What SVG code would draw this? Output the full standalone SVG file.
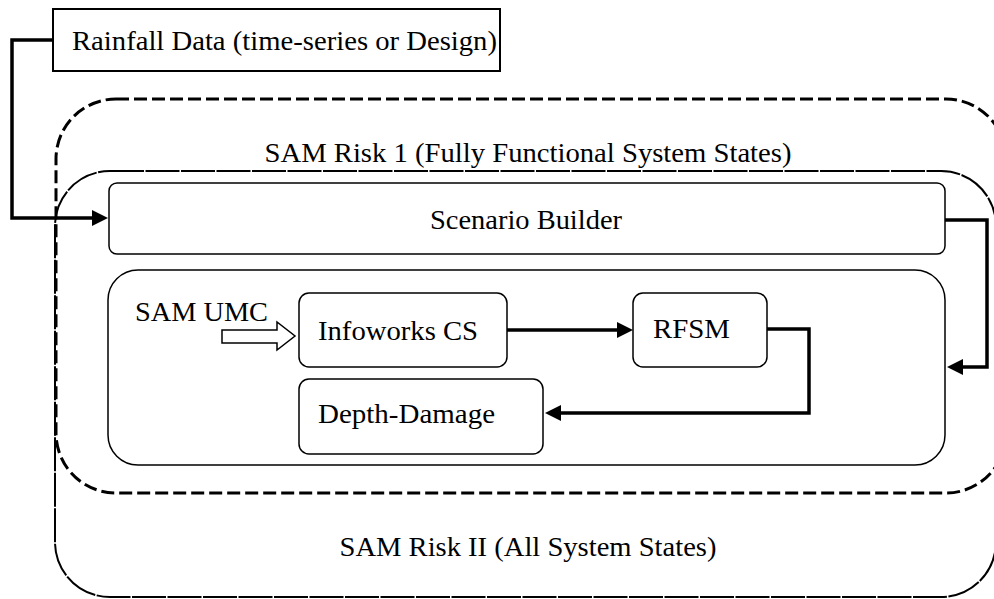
<svg xmlns="http://www.w3.org/2000/svg" width="994" height="599" viewBox="0 0 994 599">
  <style>
    text { font-size: 28px; fill: #000; }
    .box { fill: none; stroke: #000; stroke-width: 1.5; }
    .flow { fill: none; stroke: #000; stroke-width: 3.5; stroke-linejoin: miter; }
  </style>
  <defs>
    <marker id="head" markerUnits="userSpaceOnUse" markerWidth="17" markerHeight="16" refX="2" refY="8" orient="auto">
      <path d="M0,0 L16,8 L0,16 z" fill="#000"/>
    </marker>
  </defs>

  <g font-family="'Liberation Serif', 'DejaVu Serif', serif">
  <!-- outer container: all system states -->
  <g id="sam-risk-2">
    <rect x="55" y="171" width="941" height="426" rx="55" ry="55" fill="none" stroke="#000" stroke-width="2" stroke-dasharray="34 1.5"/>
    <text x="528" y="556" text-anchor="middle" textLength="377" lengthAdjust="spacingAndGlyphs">SAM Risk II (All System States)</text>
  </g>

  <!-- dashed container: fully functional system states -->
  <g id="sam-risk-1">
    <rect x="56" y="99" width="950" height="394" rx="60" ry="60" fill="none" stroke="#000" stroke-width="3" stroke-dasharray="13 5"/>
    <text x="528" y="162" text-anchor="middle" textLength="527" lengthAdjust="spacingAndGlyphs">SAM Risk 1 (Fully Functional System States)</text>
  </g>

  <g id="rainfall">
    <rect x="53" y="9" width="447" height="62" fill="#fff" stroke="#000" stroke-width="2"/>
    <text x="72" y="50" textLength="425" lengthAdjust="spacingAndGlyphs">Rainfall Data (time-series or Design)</text>
  </g>

  <g id="scenario-builder">
    <rect class="box" x="109" y="183" width="836" height="71" rx="8" ry="8"/>
    <text x="526" y="229" text-anchor="middle" textLength="192" lengthAdjust="spacingAndGlyphs">Scenario Builder</text>
  </g>

  <g id="model-chain">
    <rect class="box" x="108" y="270" width="837" height="195" rx="30" ry="30"/>
  </g>

  <g id="sam-umc">
    <text x="135" y="321" textLength="133" lengthAdjust="spacingAndGlyphs">SAM UMC</text>
    <path d="M222,330 L277,330 L277,322 L295,336 L277,350 L277,343 L222,343 z" fill="#fff" stroke="#000" stroke-width="1.5"/>
  </g>

  <g id="infoworks">
    <rect class="box" x="299" y="293" width="208" height="74" rx="10" ry="10"/>
    <text x="318" y="340" textLength="160" lengthAdjust="spacingAndGlyphs">Infoworks CS</text>
  </g>

  <g id="rfsm">
    <rect class="box" x="633" y="293" width="134" height="74" rx="10" ry="10"/>
    <text x="653" y="338" textLength="77" lengthAdjust="spacingAndGlyphs">RFSM</text>
  </g>

  <g id="depth-damage">
    <rect class="box" x="299" y="379" width="244" height="75" rx="10" ry="10"/>
    <text x="318" y="423" textLength="177" lengthAdjust="spacingAndGlyphs">Depth-Damage</text>
  </g>
  </g>

  <!-- connectors -->
  <g id="connectors">
    <path class="flow" d="M53,40 L12,40 L12,218 L94,218" marker-end="url(#head)"/>
    <path class="flow" d="M945,220 L987,220 L987,367 L961,367" marker-end="url(#head)"/>
    <path class="flow" d="M507,330 L619,330" marker-end="url(#head)"/>
    <path class="flow" d="M767,329 L809,329 L809,413 L559,413" marker-end="url(#head)"/>
  </g>
</svg>
